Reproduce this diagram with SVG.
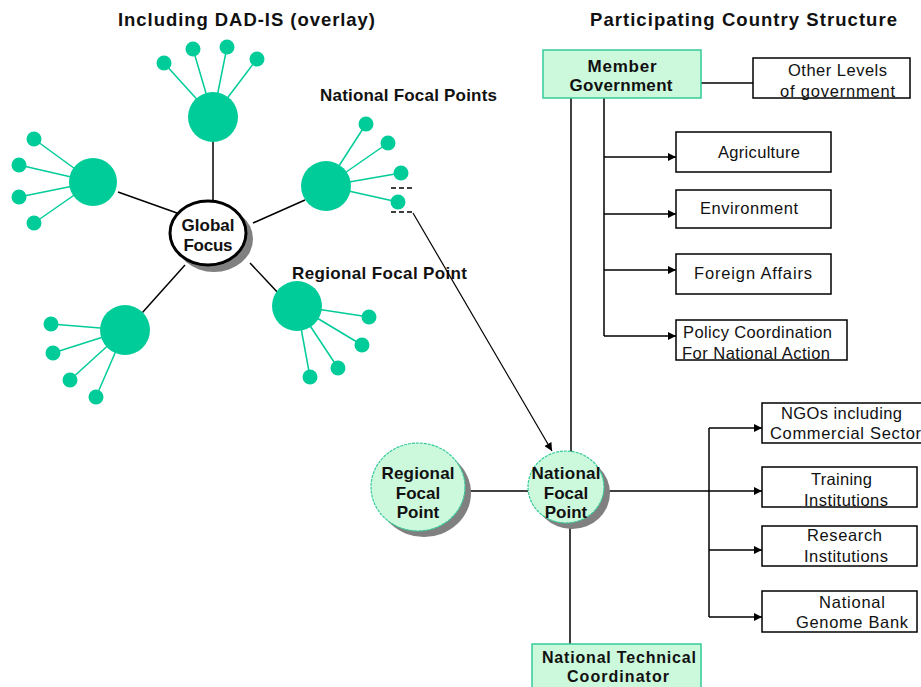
<svg xmlns="http://www.w3.org/2000/svg" width="921" height="687" viewBox="0 0 921 687">
<defs>
<marker id="arr" viewBox="0 0 10 10" refX="10" refY="5" markerWidth="9" markerHeight="8" markerUnits="userSpaceOnUse" orient="auto">
<path d="M0,0 L10,5 L0,10 z" fill="#000"/>
</marker>
<style>
text{font-family:"Liberation Sans",Arial,sans-serif;fill:#111;}
.t{font-size:18.5px;font-weight:bold;}
.lb{font-size:17px;font-weight:bold;}
.lbs{font-size:16px;font-weight:bold;}
.bx{font-size:16.5px;}
.ln{stroke:#000;stroke-width:1.5;fill:none;}
.gl{stroke:#00cc99;stroke-width:1.5;fill:none;}
.hub{fill:#00cc99;}
.box{fill:#fff;stroke:#000;stroke-width:1.5;}
.gbox{fill:#ccf8dc;stroke:#33cc99;stroke-width:1.5;}
.gc{fill:#ccf8dc;stroke:#33cc99;stroke-width:1.2;stroke-dasharray:3 1;}
.sh{fill:#808080;}
.dash{stroke:#000;stroke-width:1.5;stroke-dasharray:5 3;}
</style>
</defs>
<rect width="921" height="687" fill="#fff"/>

<text class="t" x="118" y="26" textLength="257" lengthAdjust="spacing">Including DAD-IS (overlay)</text>
<text class="t" x="590" y="26" textLength="307" lengthAdjust="spacing">Participating Country Structure</text>
<text class="lb" x="320" y="101" textLength="177" lengthAdjust="spacing">National Focal Points</text>
<text class="lb" x="292" y="279" textLength="175" lengthAdjust="spacing">Regional Focal Point</text>

<g id="connectors">
<line class="ln" x1="213" y1="140" x2="213" y2="200"/>
<line class="ln" x1="118" y1="192" x2="177" y2="213"/>
<line class="ln" x1="305" y1="200" x2="253" y2="223"/>
<line class="ln" x1="250" y1="263" x2="280" y2="295"/>
<line class="ln" x1="142" y1="313" x2="185" y2="265"/>
<g class="gl">
<line x1="213" y1="117" x2="164" y2="63"/><line x1="213" y1="117" x2="193" y2="49"/><line x1="213" y1="117" x2="227" y2="47"/><line x1="213" y1="117" x2="257" y2="59"/>
<line x1="93" y1="182" x2="34" y2="139"/><line x1="93" y1="182" x2="19" y2="165"/><line x1="93" y1="182" x2="19" y2="197"/><line x1="93" y1="182" x2="34" y2="223"/>
<line x1="326" y1="186" x2="366" y2="124"/><line x1="326" y1="186" x2="388" y2="143"/><line x1="326" y1="186" x2="401" y2="173"/><line x1="326" y1="186" x2="398" y2="202"/>
<line x1="297" y1="306" x2="369" y2="317"/><line x1="297" y1="306" x2="362" y2="345"/><line x1="297" y1="306" x2="338" y2="368"/><line x1="297" y1="306" x2="310" y2="377"/>
<line x1="125" y1="330" x2="51" y2="324"/><line x1="125" y1="330" x2="53" y2="353"/><line x1="125" y1="330" x2="70" y2="380"/><line x1="125" y1="330" x2="96" y2="397"/>
</g>
<line class="dash" x1="391" y1="188" x2="413" y2="188"/>
<line class="dash" x1="391" y1="212" x2="413" y2="212"/>
<polyline points="413,213 552,451" fill="none" stroke="#000" stroke-width="1.2" marker-end="url(#arr)"/>
<line class="ln" x1="701" y1="83" x2="753" y2="83"/>
<line class="ln" x1="571" y1="98" x2="571" y2="452"/>
<polyline class="ln" points="604,98 604,336"/>
<line class="ln" x1="604" y1="157" x2="676" y2="157" marker-end="url(#arr)"/>
<line class="ln" x1="604" y1="214" x2="676" y2="214" marker-end="url(#arr)"/>
<line class="ln" x1="604" y1="270" x2="676" y2="270" marker-end="url(#arr)"/>
<line class="ln" x1="604" y1="336" x2="676" y2="336" marker-end="url(#arr)"/>
<line class="ln" x1="466" y1="491" x2="528" y2="491"/>
<line class="ln" x1="604" y1="491" x2="762" y2="491" marker-end="url(#arr)"/>
<line class="ln" x1="709" y1="428" x2="709" y2="617"/>
<line class="ln" x1="709" y1="428" x2="762" y2="428" marker-end="url(#arr)"/>
<line class="ln" x1="709" y1="550" x2="762" y2="550" marker-end="url(#arr)"/>
<line class="ln" x1="709" y1="617" x2="762" y2="617" marker-end="url(#arr)"/>
<line class="ln" x1="570" y1="523" x2="570" y2="644"/>
</g>

<g id="global-focus">
<ellipse class="sh" cx="214" cy="239" rx="39" ry="33"/>
<ellipse cx="208" cy="233" rx="38" ry="32" fill="#fff" stroke="#000" stroke-width="3"/>
<text class="lb" x="208" y="231" text-anchor="middle" textLength="53" lengthAdjust="spacing">Global</text>
<text class="lb" x="208" y="251" text-anchor="middle" textLength="49" lengthAdjust="spacing">Focus</text>
</g>

<g id="hub-top"><circle class="hub" cx="213" cy="117" r="25"/>
<circle class="hub" cx="164" cy="63" r="7.5"/><circle class="hub" cx="193" cy="49" r="7.5"/><circle class="hub" cx="227" cy="47" r="7.5"/><circle class="hub" cx="257" cy="59" r="7.5"/></g>
<g id="hub-left"><circle class="hub" cx="93" cy="182" r="24"/>
<circle class="hub" cx="34" cy="139" r="7.5"/><circle class="hub" cx="19" cy="165" r="7.5"/><circle class="hub" cx="19" cy="197" r="7.5"/><circle class="hub" cx="34" cy="223" r="7.5"/></g>
<g id="hub-right"><circle class="hub" cx="326" cy="186" r="25"/>
<circle class="hub" cx="366" cy="124" r="7.5"/><circle class="hub" cx="388" cy="143" r="7.5"/><circle class="hub" cx="401" cy="173" r="7.5"/><circle class="hub" cx="398" cy="202" r="7.5"/></g>
<g id="hub-bottom-right"><circle class="hub" cx="297" cy="306" r="25"/>
<circle class="hub" cx="369" cy="317" r="7.5"/><circle class="hub" cx="362" cy="345" r="7.5"/><circle class="hub" cx="338" cy="368" r="7.5"/><circle class="hub" cx="310" cy="377" r="7.5"/></g>
<g id="hub-bottom-left"><circle class="hub" cx="125" cy="330" r="25"/>
<circle class="hub" cx="51" cy="324" r="7.5"/><circle class="hub" cx="53" cy="353" r="7.5"/><circle class="hub" cx="70" cy="380" r="7.5"/><circle class="hub" cx="96" cy="397" r="7.5"/></g>

<g id="member-government">
<rect class="gbox" x="543" y="50" width="158" height="48"/>
<text class="lb" x="622" y="72" text-anchor="middle" textLength="69" lengthAdjust="spacing">Member</text>
<text class="lb" x="621" y="91" text-anchor="middle" textLength="103" lengthAdjust="spacing">Government</text>
</g>
<g id="other-levels">
<rect class="box" x="753" y="58" width="157" height="40"/>
<text class="bx" x="788" y="76" textLength="99" lengthAdjust="spacing">Other Levels</text>
<text class="bx" x="780" y="97" textLength="115" lengthAdjust="spacing">of government</text>
</g>
<g id="agriculture">
<rect class="box" x="676" y="132" width="155" height="40"/>
<text class="bx" x="718" y="158" textLength="82" lengthAdjust="spacing">Agriculture</text>
</g>
<g id="environment">
<rect class="box" x="676" y="190" width="155" height="38"/>
<text class="bx" x="700" y="214" textLength="98" lengthAdjust="spacing">Environment</text>
</g>
<g id="foreign-affairs">
<rect class="box" x="676" y="254" width="155" height="40"/>
<text class="bx" x="694" y="279" textLength="118" lengthAdjust="spacing">Foreign  Affairs</text>
</g>
<g id="policy">
<rect class="box" x="676" y="320" width="171" height="40"/>
<text class="bx" x="683" y="338" textLength="149" lengthAdjust="spacing">Policy Coordination</text>
<text class="bx" x="682" y="359" textLength="148" lengthAdjust="spacing">For National Action</text>
</g>

<g id="regional-focal-point">
<ellipse class="sh" cx="424" cy="493" rx="47" ry="44"/>
<ellipse class="gc" cx="418" cy="487" rx="47" ry="44"/>
<text class="lb" x="418" y="479" text-anchor="middle" textLength="73" lengthAdjust="spacing">Regional</text>
<text class="lb" x="418" y="499" text-anchor="middle">Focal</text>
<text class="lb" x="418" y="518" text-anchor="middle">Point</text>
</g>
<g id="national-focal-point">
<ellipse class="sh" cx="572" cy="493" rx="38" ry="36"/>
<ellipse class="gc" cx="566" cy="487" rx="38" ry="36"/>
<text class="lb" x="566" y="479" text-anchor="middle" textLength="69" lengthAdjust="spacing">National</text>
<text class="lb" x="566" y="499" text-anchor="middle">Focal</text>
<text class="lb" x="566" y="518" text-anchor="middle">Point</text>
</g>
<g id="national-technical-coordinator">
<rect class="gbox" x="532" y="644" width="169" height="50"/>
<text class="lbs" x="619" y="663" text-anchor="middle" textLength="154" lengthAdjust="spacing">National Technical</text>
<text class="lbs" x="618" y="682" text-anchor="middle" textLength="102" lengthAdjust="spacing">Coordinator</text>
</g>

<g id="ngos">
<rect class="box" x="762" y="403" width="165" height="40"/>
<text class="bx" x="781" y="419" textLength="121" lengthAdjust="spacing">NGOs including</text>
<text class="bx" x="770" y="439" textLength="151" lengthAdjust="spacing">Commercial Sector</text>
</g>
<g id="training">
<rect class="box" x="762" y="467" width="155" height="40"/>
<text class="bx" x="811" y="485" textLength="61" lengthAdjust="spacing">Training</text>
<text class="bx" x="804" y="506" textLength="84" lengthAdjust="spacing">Institutions</text>
</g>
<g id="research">
<rect class="box" x="762" y="526" width="155" height="40"/>
<text class="bx" x="807" y="541" textLength="75" lengthAdjust="spacing">Research</text>
<text class="bx" x="804" y="562" textLength="84" lengthAdjust="spacing">Institutions</text>
</g>
<g id="genome-bank">
<rect class="box" x="762" y="591" width="155" height="41"/>
<text class="bx" x="819" y="608" textLength="66" lengthAdjust="spacing">National</text>
<text class="bx" x="796" y="628" textLength="112" lengthAdjust="spacing">Genome Bank</text>
</g>
</svg>
